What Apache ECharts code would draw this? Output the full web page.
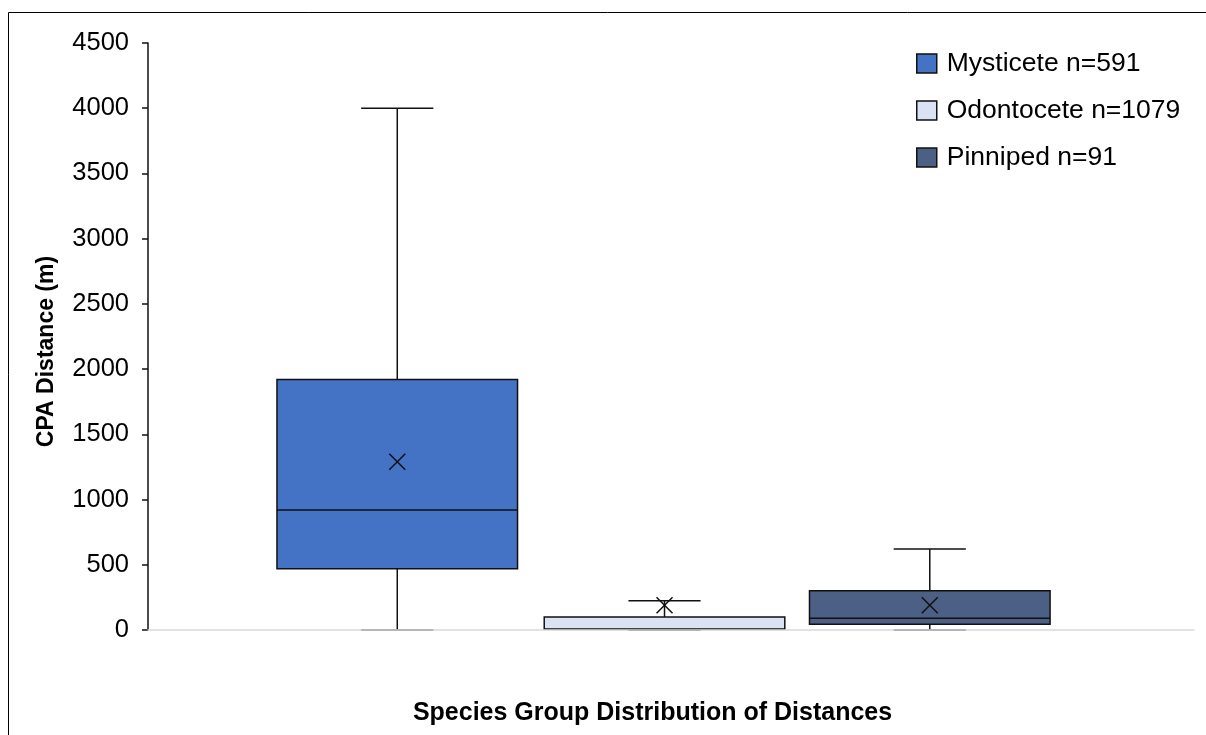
<!DOCTYPE html>
<html>
<head>
<meta charset="utf-8">
<title>CPA Distance by Species Group</title>
<script src="https://cdn.jsdelivr.net/npm/echarts@6/dist/echarts.min.js"></script>
<style>
  html, body { margin: 0; padding: 0; background: #fff; }
  #chart { width: 1206px; height: 735px; }
</style>
</head>
<body>
<div id="chart"></div>
<script>
// 数据
const groups = ['Mysticete', 'Odontocete', 'Pinniped'];
const counts = [591, 1079, 91];
// [min, Q1, median, Q3, max]
const mysticeteBox = [0, 470, 920, 1920, 4000];
const odontoceteBox = [0, 5, 5, 100, 225];
const pinnipedBox = [0, 45, 90, 300, 620];
const means = [1290, 190, 190];
const yTicks = [0, 500, 1000, 1500, 2000, 2500, 3000, 3500, 4000, 4500];

const boxes = [mysticeteBox, odontoceteBox, pinnipedBox];
const colors = ['#4472C4', '#DAE3F3', '#4C5F84'];
const FONT = '"Liberation Sans", Arial, sans-serif';

// 每组箱子在类目带宽内的偏移 (占带宽比例)
const shifts = [-0.2617, -0.0062, 0.2474];
const BOX_FRAC = 0.23;
const CAP_FRAC = 0.069;

function makeRender (idx) {
  return function (params, api) {
    const band = api.size([1, 0])[0];
    const cx = api.coord([api.value(0), 0])[0] + shifts[idx] * band;
    const y = i => api.coord([api.value(0), api.value(i)])[1];
    const half = band * BOX_FRAC / 2;
    const cap = band * CAP_FRAC / 2;
    const line = { stroke: '#111', lineWidth: 1.5, fill: null };
    const yMin = y(1), yQ1 = y(2), yMed = y(3), yQ3 = y(4), yMax = y(5), yMean = y(6);
    const m = 8;
    return {
      type: 'group',
      children: [
        { type: 'line', shape: { x1: cx, y1: yQ3, x2: cx, y2: yMax }, style: line },
        { type: 'line', shape: { x1: cx - cap, y1: yMax, x2: cx + cap, y2: yMax }, style: line },
        { type: 'line', shape: { x1: cx, y1: yQ1, x2: cx, y2: yMin }, style: line },
        { type: 'line', shape: { x1: cx - cap, y1: yMin, x2: cx + cap, y2: yMin }, style: line },
        {
          type: 'rect',
          shape: { x: cx - half, y: yQ3, width: half * 2, height: yQ1 - yQ3 },
          style: { fill: colors[idx], stroke: '#111', lineWidth: 1.5 },
        },
        { type: 'line', shape: { x1: cx - half, y1: yMed, x2: cx + half, y2: yMed }, style: line },
        { type: 'line', shape: { x1: cx - m, y1: yMean - m, x2: cx + m, y2: yMean + m }, style: line },
        { type: 'line', shape: { x1: cx - m, y1: yMean + m, x2: cx + m, y2: yMean - m }, style: line },
      ],
    };
  };
}

const names = groups.map((g, i) => `${g} n=${counts[i]}`);

const series = groups.map((g, i) => ({
  name: names[i],
  type: 'custom',
  z: 1,
  renderItem: makeRender(i),
  itemStyle: { color: colors[i], borderColor: '#111', borderWidth: 1.5 },
  encode: { x: 0, y: [1, 2, 3, 4, 5, 6] },
  data: [[0].concat(boxes[i], [means[i]])],
}));

const chart = echarts.init(document.getElementById('chart'));
chart.setOption({
  animation: false,
  backgroundColor: '#fff',
  textStyle: { fontFamily: FONT },
  graphic: [{
    type: 'rect',
    shape: { x: 8.5, y: 12.5, width: 1300, height: 800 },
    style: { fill: null, stroke: '#000', lineWidth: 1 },
    silent: true,
  }],
  legend: {
    orient: 'vertical',
    left: 911,
    top: 45,
    icon: 'rect',
    itemWidth: 20,
    itemHeight: 19,
    itemGap: 20,
    textStyle: { fontSize: 26.5, color: '#000', fontFamily: FONT, padding: [0, 0, 0, 5] },
    data: names.map((n, i) => ({
      name: n,
      itemStyle: { color: colors[i], borderColor: '#111', borderWidth: 1.5 },
    })),
  },
  grid: { left: 148, right: 12, top: 43, bottom: 105 },
  xAxis: {
    type: 'category',
    z: 3,
    data: [''],
    axisTick: { show: false },
    axisLabel: { show: false },
    axisLine: { lineStyle: { color: '#d9d9d9', width: 1.5 } },
    splitLine: { show: false },
    name: 'Species Group Distribution of Distances',
    nameLocation: 'middle',
    nameGap: 71,
    nameTextStyle: { fontSize: 25, fontWeight: 'bold', color: '#000', fontFamily: FONT, padding: [0, 37, 0, 0] },
  },
  yAxis: {
    type: 'value',
    min: yTicks[0],
    max: yTicks[yTicks.length - 1],
    interval: yTicks[1] - yTicks[0],
    axisLine: { show: true, lineStyle: { color: '#111', width: 1.5 } },
    axisTick: { show: true, length: 6, lineStyle: { color: '#111', width: 1.5 } },
    axisLabel: { fontSize: 25.5, color: '#000', margin: 19, fontFamily: FONT, formatter: v => String(v) },
    splitLine: { show: false },
    name: 'CPA Distance (m)',
    nameLocation: 'middle',
    nameGap: 90,
    nameTextStyle: { fontSize: 23, fontWeight: 'bold', color: '#000', fontFamily: FONT, padding: [0, 30, 0, 0] },
  },
  series: series,
});
</script>
</body>
</html>
